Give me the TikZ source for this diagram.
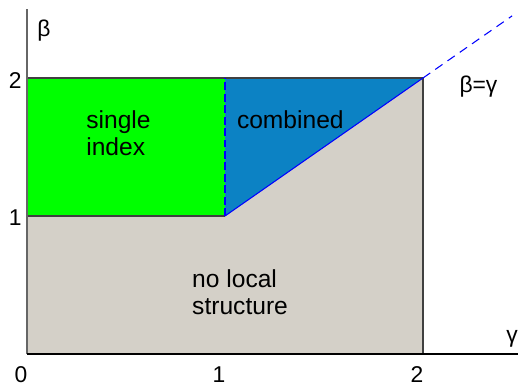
\documentclass[tikz,border=0pt]{standalone}
\usepackage{fontspec}
\setmainfont{Liberation Sans}
\definecolor{regiongreen}{RGB}{0,255,0}
\definecolor{regionblue}{RGB}{12,130,196}
\definecolor{regiongray}{RGB}{212,208,200}
\begin{document}
\begin{tikzpicture}[x=3.96cm,y=2.76cm,font=\fontsize{13}{15}\selectfont]
	\useasboundingbox (-0.1364,-0.2246) rectangle (2.4798,2.5652);

	% Regionen
	\fill[regiongray] (0,0) -- (2,0) -- (2,2) -- (1,1) -- (0,1) -- cycle;
	\fill[regiongreen] (0,1) rectangle (1,2);
	\fill[regionblue] (1,1) -- (1,2) -- (2,2) -- cycle;

	% Raender
	\draw[line width=0.6pt, black!75] (0,2) -- (2,2) -- (2,0);
	\draw[line width=0.6pt, black!75] (0,1) -- (1,1);
	\draw[line width=1.4pt, blue, dash pattern=on 4.5pt off 2pt] (1,1) -- (1,2);
	\draw[line width=0.6pt, blue] (1,1) -- (2,2);
	\draw[line width=0.6pt, blue, dash pattern=on 5pt off 3.5pt] (2,2) -- (2.45,2.45);

	% Achsen
	\draw[line width=0.6pt, black!60] (0,0) -- (0,2.5);
	\draw[line width=0.6pt] (0,0) -- (2.48,0);
	\node (betaaxis) at (0.086,2.34) {β};
	\node (gammaaxis) at (2.45,0.11) {γ};
	\foreach \v in {0,1,2}
		\node[inner sep=0pt] (gtick\v) at (\v-0.03,-0.148) {\v};
	\foreach \v in {1,2}
		\node (btick\v) at (-0.06,\v-0.015) {\v};

	% Beschriftungen
	\begin{scope}[font=\fontsize{14}{15.5}\selectfont]
		\node[align=left] (single) at (0.462,1.60) {single\\index};
		\node (combined) at (1.33,1.70) {combined};
		\node[align=left] (nolocal) at (1.076,0.45) {no local\\structure};
		\node[font=\fontsize{13}{15}\selectfont] (diag) at (2.28,1.94) {β=γ};
	\end{scope}
\end{tikzpicture}
\end{document}
